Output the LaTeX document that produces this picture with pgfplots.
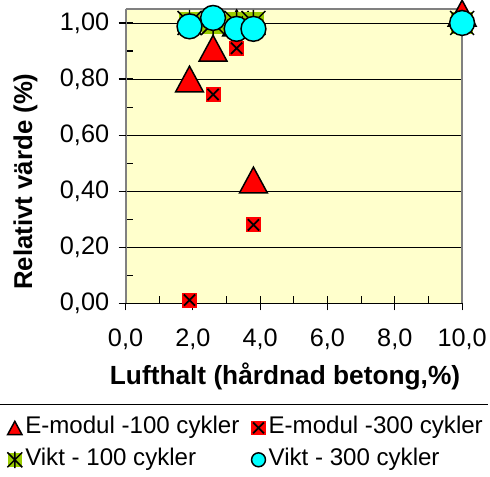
\documentclass[border=0pt]{standalone}
\usepackage{fontspec}
\setmainfont{Liberation Sans}
\usepackage{pgfplots}
\pgfplotsset{compat=1.18}

\definecolor{bgyellow}{RGB}{255,255,204}
\definecolor{emred}{RGB}{255,0,0}
\definecolor{viktgreen}{RGB}{153,204,0}
\definecolor{viktcyan}{RGB}{0,255,255}
\definecolor{framegray}{RGB}{128,128,128}

% Excel-like markers
\pgfdeclareplotmark{xltri}{%
  \pgfpathmoveto{\pgfqpoint{0pt}{0.925\pgfplotmarksize}}%
  \pgfpathlineto{\pgfqpoint{\pgfplotmarksize}{-0.925\pgfplotmarksize}}%
  \pgfpathlineto{\pgfqpoint{-\pgfplotmarksize}{-0.925\pgfplotmarksize}}%
  \pgfpathclose
  \pgfusepathqfillstroke}
\pgfdeclareplotmark{xlboxx}{%
  \pgfpathrectangle{\pgfqpoint{-\pgfplotmarksize}{-\pgfplotmarksize}}{\pgfqpoint{2\pgfplotmarksize}{2\pgfplotmarksize}}%
  \pgfusepathqfill
  \pgfpathmoveto{\pgfqpoint{-0.75\pgfplotmarksize}{-0.75\pgfplotmarksize}}%
  \pgfpathlineto{\pgfqpoint{0.75\pgfplotmarksize}{0.75\pgfplotmarksize}}%
  \pgfpathmoveto{\pgfqpoint{-0.75\pgfplotmarksize}{0.75\pgfplotmarksize}}%
  \pgfpathlineto{\pgfqpoint{0.75\pgfplotmarksize}{-0.75\pgfplotmarksize}}%
  \pgfusepathqstroke}
\pgfdeclareplotmark{xlstar}{%
  \pgfpathrectangle{\pgfqpoint{-0.9\pgfplotmarksize}{-0.9\pgfplotmarksize}}{\pgfqpoint{1.8\pgfplotmarksize}{1.8\pgfplotmarksize}}%
  \pgfusepathqfill
  \pgfpathmoveto{\pgfqpoint{-\pgfplotmarksize}{-\pgfplotmarksize}}%
  \pgfpathlineto{\pgfqpoint{\pgfplotmarksize}{\pgfplotmarksize}}%
  \pgfpathmoveto{\pgfqpoint{-\pgfplotmarksize}{\pgfplotmarksize}}%
  \pgfpathlineto{\pgfqpoint{\pgfplotmarksize}{-\pgfplotmarksize}}%
  \pgfpathmoveto{\pgfqpoint{0pt}{-1.1\pgfplotmarksize}}%
  \pgfpathlineto{\pgfqpoint{0pt}{1.1\pgfplotmarksize}}%
  \pgfusepathqstroke}

% legend shows a single, smaller marker
\pgfplotsset{
  legmark/.style={legend image code/.code={\draw[##1, mark size=#1] plot coordinates {(0bp,0bp)};}},
}

\begin{document}
\begin{tikzpicture}
\begin{axis}[
    scale only axis,
    width=338.3bp, height=296bp,
    xmin=0, xmax=10, ymin=0, ymax=1.05,
    clip=false,
    axis background/.style={fill=bgyellow},
    axis x line*=bottom, axis y line*=left,
    x axis line style={-, black, line width=1.5bp},
    y axis line style={-, framegray, line width=2bp},
    xtick={0,2,4,6,8,10},
    ytick={0,0.2,0.4,0.6,0.8,1.0},
    minor x tick num=1, minor y tick num=1,
    tick align=inside, major tick length=7bp, minor tick length=7bp,
    tick style={black, line width=1.2bp},
    ymajorgrids, major grid style={black, line width=0.8bp},
    extra x ticks={0,2,4,6,8,10}, extra x tick labels={,,,,,},
    extra x tick style={tick align=outside, xmajorgrids=false},
    extra y ticks={0,0.2,0.4,0.6,0.8,1.0}, extra y tick labels={,,,,,},
    extra y tick style={tick align=outside, ymajorgrids=false},
    /pgf/number format/assume math mode=true,
    tick label style={font=\fontsize{25.5}{29}\selectfont},
    yticklabel style={xshift=-13bp, /pgf/number format/.cd, fixed, fixed zerofill, precision=2, use comma},
    xticklabel style={yshift=-22bp, /pgf/number format/.cd, fixed, fixed zerofill, precision=1, use comma},
    xlabel={Lufthalt (hårdnad betong,\%)},
    ylabel={Relativt värde (\%)},
    every axis x label/.style={at={(axis description cs:0.4738,-0.2466)}, anchor=center,
        font=\bfseries\fontsize{26.5}{30}\selectfont},
    every axis y label/.style={at={(axis description cs:-0.2977,0.414)}, rotate=90, anchor=center,
        font=\bfseries\fontsize{26}{30}\selectfont},
    legend columns=2,
    legend cell align=left,
    legend style={at={(axis description cs:-0.3518,-0.3851)}, anchor=north west,
        draw=none, fill=none, inner sep=0pt,
        font=\fontsize{24.3}{28}\selectfont,
        nodes={inner xsep=3bp, inner ysep=0bp, text height=17bp, text depth=5bp},
        row sep=10bp,
        /tikz/every even column/.append style={column sep=9bp}},
]
% gray frame on top and right, under the markers
\draw[framegray, line width=2.5bp] (rel axis cs:0,1) -- (rel axis cs:1,1) -- (rel axis cs:1,0);

\addplot[only marks, black, mark=xltri, mark size=14bp,
    mark options={fill=emred, draw=black, line width=1.5bp}, legmark=7.2bp]
    coordinates {(1.9,0.80) (2.6,0.91) (3.3,1.00) (3.8,0.44) (10,1.035)};
\addlegendentry{E-modul -100 cykler}

\addplot[only marks, black, mark=xlboxx, mark size=7.5bp,
    mark options={fill=emred, draw=black, line width=1.8bp}, legmark=7.2bp]
    coordinates {(1.9,0.012) (2.6,0.745) (3.3,0.91) (3.8,0.28) (10,1.00)};
\addlegendentry{E-modul -300 cykler}

\addplot[only marks, black, mark=xlstar, mark size=12bp,
    mark options={fill=viktgreen, draw=black, line width=1.5bp}, legmark=7.5bp]
    coordinates {(1.9,1.00) (2.6,1.00) (3.3,1.00) (3.8,1.00) (10,1.00)};
\addlegendentry{Vikt - 100 cykler}

\addplot[only marks, black, mark=*, mark size=12.5bp,
    mark options={fill=viktcyan, draw=black, line width=1.5bp}, legmark=7bp]
    coordinates {(1.9,0.988) (2.6,1.018) (3.3,0.979) (3.8,0.979) (10,1.00)};
\addlegendentry{Vikt - 300 cykler}

% separator line above the legend and page extent
\draw[black, line width=1bp] (rel axis cs:-0.3716,-0.3446) -- (rel axis cs:1.0769,-0.3446);
\path (rel axis cs:-0.3716,1.0304) (rel axis cs:1.0769,-0.5878);
\end{axis}
\end{tikzpicture}
\end{document}
